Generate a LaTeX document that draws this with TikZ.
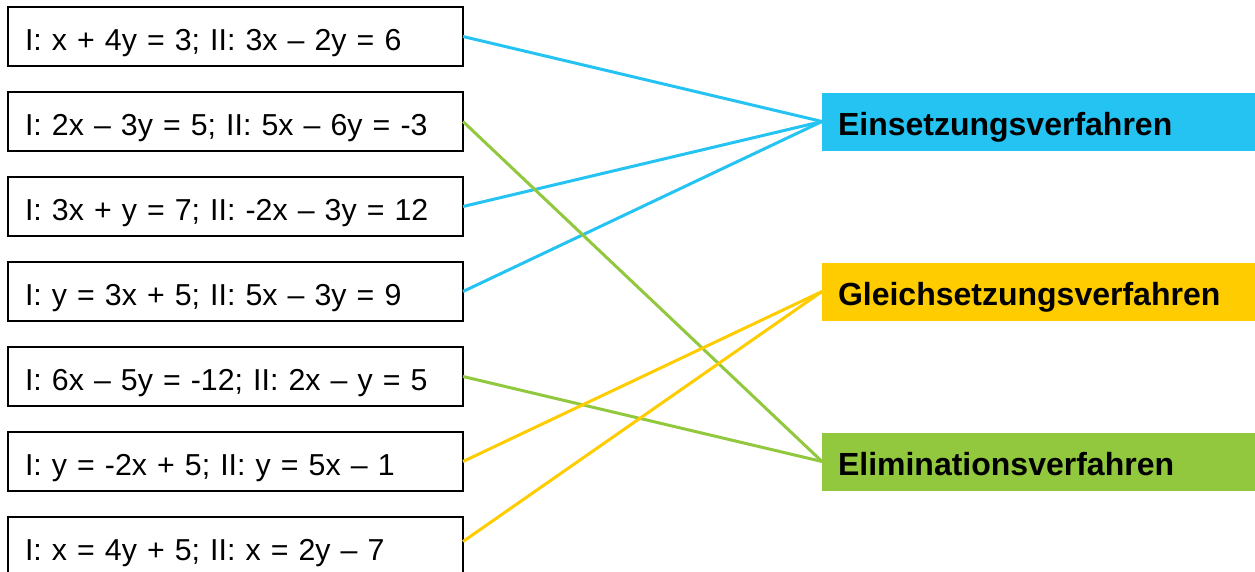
\documentclass[tikz,border=0pt]{standalone}
\usepackage{fontspec}
\setmainfont{Liberation Sans}
\usepackage{tikz}
\usetikzlibrary{positioning}
\definecolor{myblue}{RGB}{36,195,242}
\definecolor{myyellow}{RGB}{255,204,0}
\definecolor{mygreen}{RGB}{146,200,62}
\tikzset{
  eqbox/.style={rectangle, draw=black, line width=2pt, fill=white,
    minimum width=455pt, minimum height=59pt, text width=421pt,
    text height=27pt, text depth=0pt,
    inner xsep=17pt, align=left, outer sep=0pt,
    font=\fontsize{30.3}{36}\selectfont},
  method/.style={rectangle, minimum width=440pt, minimum height=58pt,
    text width=424pt, text height=27pt, text depth=0pt,
    inner xsep=16pt, align=left, outer sep=0pt,
    font=\fontsize{32}{38}\selectfont\bfseries},
  link/.style={line width=3pt}
}
\begin{document}
\begin{tikzpicture}[x=1pt, y=1pt]
  \useasboundingbox (0,0) rectangle (1255,-571);
  \begin{scope}
  \clip (0,0) rectangle (1255,-571);
  % equation systems
  \node[eqbox, anchor=north west] (q1) at (8,-7) {I: x + 4y = 3; II: 3x -- 2y = 6};
  \node[eqbox, below=26pt of q1] (q2) {I: 2x -- 3y = 5; II: 5x -- 6y = -3};
  \node[eqbox, below=26pt of q2] (q3) {I: 3x + y = 7; II: -2x -- 3y = 12};
  \node[eqbox, below=26pt of q3] (q4) {I: y = 3x + 5; II: 5x -- 3y = 9};
  \node[eqbox, below=26pt of q4] (q5) {I: 6x -- 5y = -12; II: 2x -- y = 5};
  \node[eqbox, below=26pt of q5] (q6) {I: y = -2x + 5; II: y = 5x -- 1};
  \node[eqbox, below=26pt of q6] (q7) {I: x = 4y + 5; II: x = 2y -- 7};
  % methods
  \node[method, fill=myblue, right=359pt of q2] (einsetz) {Einsetzungsverfahren};
  \node[method, fill=myyellow, right=359pt of q4] (gleich) {Gleichsetzungsverfahren};
  \node[method, fill=mygreen, right=359pt of q6] (elim) {Eliminationsverfahren};
  % links
  \draw[link, myblue] (q1.east) -- (einsetz.west);
  \draw[link, myblue] (q3.east) -- (einsetz.west);
  \draw[link, myblue] (q4.east) -- (einsetz.west);
  \draw[link, mygreen] (q2.east) -- (elim.west);
  \draw[link, mygreen] (q5.east) -- (elim.west);
  \draw[link, myyellow] (q6.east) -- (gleich.west);
  \draw[link, myyellow] ([yshift=5pt]q7.east) -- (gleich.west);
  \end{scope}
\end{tikzpicture}
\end{document}
